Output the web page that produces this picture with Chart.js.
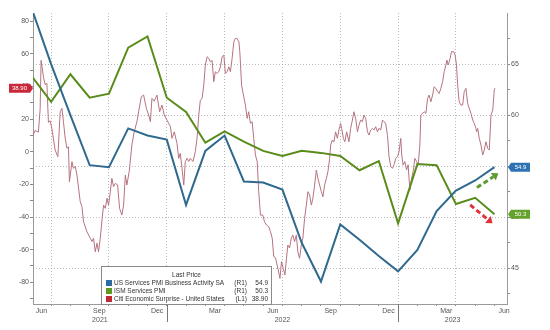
<!DOCTYPE html>
<html>
<head>
<meta charset="utf-8">
<script src="https://cdn.jsdelivr.net/npm/chart.js@4"></script>
<style>
  html, body { margin: 0; padding: 0; background: #fff; }
  #wrap { width: 550px; height: 330px; position: relative; }
</style>
</head>
<body>
<div id="wrap"><canvas id="chart"></canvas></div>
<script>
// x positions are months counted from 1 Jan 2021 (5 = 1 Jun 2021)
const pmiMonths = ['2021-05', '2021-06', '2021-07', '2021-08', '2021-09', '2021-10', '2021-11', '2021-12',
    '2022-01', '2022-02', '2022-03', '2022-04', '2022-05', '2022-06', '2022-07', '2022-08', '2022-09',
    '2022-10', '2022-11', '2022-12', '2023-01', '2023-02', '2023-03', '2023-04', '2023-05']
const usServicesPmi = [70.4, 65.0, 60.0, 55.1, 54.9, 58.7, 58.0, 57.6, 51.2, 56.5, 58.0, 53.5, 53.4,
    52.7, 47.5, 43.7, 49.3, 47.8, 46.2, 44.7, 46.8, 50.6, 52.6, 53.6, 54.9]
const ismServicesPmi = [63.8, 61.3, 64.0, 61.7, 62.1, 66.6, 67.7, 61.7, 60.3, 57.3, 58.4, 57.4, 56.5,
    56.0, 56.5, 56.3, 56.0, 54.6, 55.5, 49.4, 55.2, 55.1, 51.3, 51.9, 50.3]

const citiMonths = [
    5.06, 5.17, 5.34, 5.43, 5.48, 5.60, 5.69, 5.78, 5.86, 5.95, 6.04, 6.21, 6.35, 6.47, 6.56, 6.64,
    6.73, 6.82, 6.90, 6.95, 7.08, 7.16, 7.25, 7.34, 7.51, 7.60, 7.68, 7.86, 8.03, 8.12, 8.20, 8.29,
    8.38, 8.46, 8.55, 8.64, 8.72, 8.81, 8.90, 8.98, 9.07, 9.15, 9.24, 9.33, 9.45, 9.55, 9.67, 9.76,
    9.85, 9.93, 10.05, 10.19, 10.31, 10.45, 10.54, 10.68, 10.80, 10.94, 11.06, 11.15, 11.23, 11.35,
    11.49, 11.63, 11.75, 11.87, 12.01, 12.19, 12.27, 12.39, 12.53, 12.62, 12.70, 12.79, 12.88, 12.96,
    13.05, 13.14, 13.22, 13.36, 13.48, 13.57, 13.66, 13.74, 13.83, 13.92, 14.00, 14.09, 14.18, 14.26,
    14.35, 14.44, 14.52, 14.61, 14.70, 14.78, 14.87, 14.96, 15.04, 15.13, 15.22, 15.30, 15.39, 15.48,
    15.56, 15.65, 15.74, 15.79, 15.88, 15.96, 16.08, 16.17, 16.25, 16.34, 16.43, 16.51, 16.60, 16.69,
    16.77, 16.86, 16.98, 17.07, 17.17, 17.29, 17.38, 17.47, 17.55, 17.64, 17.76, 17.87, 17.95, 18.04,
    18.13, 18.21, 18.28, 18.37, 18.46, 18.54, 18.63, 18.72, 18.80, 18.89, 18.98, 19.06, 19.15, 19.24,
    19.32, 19.41, 19.50, 19.58, 19.67, 19.76, 19.84, 19.93, 20.02, 20.10, 20.19, 20.28, 20.36, 20.45,
    20.50, 20.59, 20.67, 20.76, 20.85, 20.93, 21.02, 21.07, 21.16, 21.24, 21.33, 21.45, 21.54, 21.63,
    21.71, 21.80, 21.89, 21.97, 22.06, 22.15, 22.23, 22.32, 22.41, 22.49, 22.58, 22.67, 22.75, 22.84,
    22.93, 23.01, 23.10, 23.19, 23.27, 23.36, 23.45, 23.53, 23.62, 23.71, 23.79, 23.88, 23.97, 24.05,
    24.14, 24.19, 24.26, 24.35, 24.44, 24.52, 24.61, 24.70, 24.78, 24.87, 24.96, 25.04, 25.13, 25.18,
    25.27, 25.35, 25.44, 25.53, 25.61, 25.70, 25.79, 25.87, 25.96, 26.05, 26.13, 26.22, 26.31, 26.39,
    26.48, 26.53, 26.60, 26.65, 26.70, 26.77, 26.88, 26.96, 27.03, 27.09, 27.17, 27.26, 27.35, 27.43,
    27.52, 27.61, 27.69, 27.78, 27.87, 27.95, 28.04, 28.07, 28.13, 28.21, 28.30, 28.39, 28.47, 28.56,
    28.65, 28.73, 28.82, 28.91, 28.99, 29.03]
const citiSurprise = [
    10, 13, 12, 26, 56, 46, 41, 42, 18, 19, 14, 1, -3, 24.5, 26.6, 18.4,
    8.2, 2.1, 3, -18.4, -6.1, -10.2, -9, -14.3, -30.6, -33.7, -42.9, -49, -53, -55, -53, -61.3,
    -56, -61.3, -53, -41.8, -32.7, -34.7, -28.5, -32.7, -24.5, -16.3, -21.4, -19.4, -20.4, -34.7, -38.8, -32.7,
    -14.3, -20.4, -12.2, 4.1, 12.2, 18.4, 24.5, 33.7, 34.7, 26.6, 22.5, 18.4, 32.7, 31,
    34.7, 24.5, 28.6, 22.5, 19.4, 15.3, 8.2, 12.2, 5.1, -4.1, -1, -10.2, -20.4, -6.1,
    -4, -6, -4.1, -6, 0, 8.2, 22.5, 31.6, 32.6, 40.8, 53.1, 58.2, 57.2, 55.1,
    56, 42.9, 49, 48, 49, 52, 58.2, 59.2, 48, 49, 52, 49, 57.2, 67.4,
    69.4, 69.4, 67.4, 61.3, 40.8, 35.7, 28.6, 20.4, 24.5, 17.4, 18.4, 8.2, -2, -6.1,
    -24.5, -38.8, -38.8, -42.9, -44.9, -45.9, -49, -53, -64.3, -65, -71.4, -77.6, -67.4, -71.4,
    -75.5, -65.3, -57.2, -59, -53, -51, -55.1, -51, -61.3, -65.3, -57.2, -53, -40.8, -32.7,
    -24.5, -26.5, -32.7, -28.5, -20.4, -11.2, -16.3, -20.4, -24.5, -27.6, -20.4, -16.3, -12.2, -4.1,
    4.1, 7.2, 6, 12.2, 8.2, 13.3, 17.4, 14.3, 8.2, 6.1, 12.2, 6.1, 14.3, 19.4,
    24.5, 20.4, 12.2, 16.3, 19.4, 18.4, 22.5, 20.4, 12.2, 10.2, 13.3, 14.3, 13.3, 15.3,
    12.2, 14.3, 13.3, 19.4, 18.4, 17, 10, -3, -9, -10.2, -8, -4.1, -3, 0,
    8.2, -2, -8.2, -6, -11.2, -8, -23.5, -16.3, -12.2, -4.1, -6, -8.2, 4.1, 22.5,
    23.5, 24.5, 23.5, 32.7, 34.7, 30.6, 34.7, 39.8, 38.8, 36.8, 35.7, 38.8, 42.9, 49,
    53.1, 56.2, 53.1, 55.1, 57.2, 61.3, 61.3, 59.2, 53.1, 40.8, 30.6, 28.6, 28.6, 36.8,
    38.8, 29.6, 26.6, 23.5, 19.4, 17.4, 14.3, 12.2, 14.3, 8.2, 4.1, -2, 1, 6.1,
    2, 1, 22.5, 25.5, 37.8, 38.9]

const monthLabels = ['Jun', 'Sep', 'Dec', 'Mar', 'Jun', 'Sep', 'Dec', 'Mar', 'Jun']
const monthLabelPos = [5.5, 8.5, 11.5, 14.5, 17.5, 20.5, 23.5, 26.5, 29.5]
const yearLabels = ['2021', '2022', '2023']
const leftTicks = [-90, -80, -70, -60, -50, -40, -30, -20, -10, 0, 10, 20, 30, 40, 50, 60, 70, 80]
const rightTicks = [42.5, 45, 47.5, 50, 52.5, 55, 57.5, 60, 62.5, 65, 67.5]

const xMin = 5.06
const xMax = 29.65

const toMonth = s => (+s.slice(0, 4) - 2021) * 12 + +s.slice(5, 7)
const pmiX = pmiMonths.map(toMonth)

// month ticks, quarter gridlines, month and year labels
const xTicks = []
for (let m = 6; m <= 29; m++) xTicks.push({ value: m, kind: m % 3 === 0 ? 'q' : 'm' })
monthLabelPos.forEach((v, i) => xTicks.push({ value: v, kind: 'label', text: monthLabels[i] }))
yearLabels.forEach((t, i) => {
    const y0 = Math.max(xMin, i * 12), y1 = Math.min(xMax, i * 12 + 12)
    xTicks.push({ value: (y0 + y1) / 2, kind: 'year', text: t })
})
xTicks.sort((a, b) => a.value - b.value)

const tickFont = { family: 'Arial, "Liberation Sans", sans-serif', size: 7 }
const gridDot = '#b8b8b8'
const axisGrey = '#9a9a9a'

const overlay = {
    id: 'overlay',
    afterDraw(chart) {
        const { ctx, chartArea: a, scales } = chart
        const x = scales.x, yl = scales.y, yr = scales.y1
        ctx.save()

        // year separators below the axis
        ctx.strokeStyle = '#777'
        ctx.lineWidth = 1
        ;[12, 24].forEach(m => {
            const px = Math.round(x.getPixelForValue(m)) + 0.5
            ctx.beginPath(); ctx.moveTo(px, a.bottom); ctx.lineTo(px, a.bottom + 18); ctx.stroke()
        })

        // arrows
        const arrow = (from, to, color) => {
            const x1 = x.getPixelForValue(from[0]), y1 = yr.getPixelForValue(from[1])
            const x2 = x.getPixelForValue(to[0]), y2 = yr.getPixelForValue(to[1])
            const ang = Math.atan2(y2 - y1, x2 - x1)
            const hx = x2 - Math.cos(ang) * 6, hy = y2 - Math.sin(ang) * 6
            ctx.strokeStyle = color; ctx.fillStyle = color
            ctx.lineWidth = 3
            ctx.setLineDash([5, 3])
            ctx.beginPath(); ctx.moveTo(x1, y1); ctx.lineTo(hx, hy); ctx.stroke()
            ctx.setLineDash([])
            ctx.beginPath()
            ctx.moveTo(x2, y2)
            ctx.lineTo(hx + Math.cos(ang + Math.PI / 2) * 4.5, hy + Math.sin(ang + Math.PI / 2) * 4.5)
            ctx.lineTo(hx - Math.cos(ang + Math.PI / 2) * 4.5, hy - Math.sin(ang + Math.PI / 2) * 4.5)
            ctx.closePath(); ctx.fill()
        }
        arrow([28.09, 52.9], [29.2, 54.3], '#5f9a2e')
        arrow([27.74, 51.2], [28.9, 49.4], '#e3313c')

        // last value tags
        const tag = (px, py, w, dir, color, text) => {
            const h = 9, p = 3
            ctx.beginPath()
            ctx.moveTo(px, py)
            ctx.lineTo(px + dir * p, py - h / 2)
            ctx.lineTo(px + dir * (p + w), py - h / 2)
            ctx.lineTo(px + dir * (p + w), py + h / 2)
            ctx.lineTo(px + dir * p, py + h / 2)
            ctx.closePath()
            ctx.fillStyle = color; ctx.fill()
            ctx.fillStyle = '#fff'
            ctx.font = '6px Arial, "Liberation Sans", sans-serif'
            ctx.textAlign = 'center'; ctx.textBaseline = 'middle'
            ctx.fillText(text, px + dir * (p + w / 2), py + 0.5)
        }
        const ds = chart.data.datasets
        const last = d => d.data[d.data.length - 1].y
        tag(a.right + 1, yr.getPixelForValue(last(ds[0])), 19, 1, '#2f72b3', last(ds[0]).toFixed(1))
        tag(a.right + 1, yr.getPixelForValue(last(ds[1])), 19, 1, '#64a22c', last(ds[1]).toFixed(1))
        tag(a.left, yl.getPixelForValue(last(ds[2])), 21, -1, '#c9283a', last(ds[2]).toFixed(2))

        // legend box
        const bx = a.left + 68, by = a.bottom - 38, bw = 171, bh = 38
        ctx.fillStyle = '#fff'
        ctx.fillRect(bx, by, bw, bh)
        ctx.strokeStyle = '#8a8a8a'; ctx.lineWidth = 1
        ctx.strokeRect(bx + 0.5, by + 0.5, bw - 1, bh)
        ctx.fillStyle = '#333'
        ctx.font = '6.5px Arial, "Liberation Sans", sans-serif'
        ctx.textBaseline = 'middle'
        ctx.textAlign = 'center'
        ctx.fillText('Last Price', bx + bw / 2, by + 9)
        const rows = [
            [ds[0].label, '(R1)', last(ds[0]).toFixed(1), '#2d6aa8'],
            [ds[1].label, '(R1)', last(ds[1]).toFixed(1), '#5c9a22'],
            [ds[2].label, '(L1)', last(ds[2]).toFixed(2), '#c42834']
        ]
        rows.forEach((r, i) => {
            const ry = by + 17 + i * 8
            ctx.fillStyle = r[3]
            ctx.fillRect(bx + 5, ry - 3, 6, 6)
            ctx.fillStyle = '#333'
            ctx.textAlign = 'left'
            ctx.fillText(r[0], bx + 13, ry)
            ctx.textAlign = 'right'
            ctx.fillText(r[1], bx + 146, ry)
            ctx.fillText(r[2], bx + 167, ry)
        })
        ctx.restore()
    }
}

new Chart(document.getElementById('chart'), {
    type: 'line',
    data: {
        datasets: [
            {
                label: 'US Services PMI Business Activity SA',
                data: pmiX.map((m, i) => ({ x: m, y: usServicesPmi[i] })),
                yAxisID: 'y1',
                borderColor: '#30698f',
                borderWidth: 2,
                pointRadius: 0,
                tension: 0
            },
            {
                label: 'ISM Services PMI',
                data: pmiX.map((m, i) => ({ x: m, y: ismServicesPmi[i] })),
                yAxisID: 'y1',
                borderColor: '#5a8c1c',
                borderWidth: 2,
                pointRadius: 0,
                tension: 0
            },
            {
                label: 'Citi Economic Surprise - United States',
                data: citiMonths.map((m, i) => ({ x: m, y: citiSurprise[i] })),
                yAxisID: 'y',
                borderColor: '#b5737f',
                borderWidth: 1,
                pointRadius: 0,
                tension: 0
            }
        ]
    },
    options: {
        responsive: true,
        maintainAspectRatio: false,
        animation: false,
        layout: { padding: { top: 13, left: 0, right: 0, bottom: 0 } },
        scales: {
            x: {
                type: 'linear',
                bounds: 'data',
                min: xMin,
                max: xMax,
                afterBuildTicks: s => { s.ticks = xTicks.map(t => ({ ...t })) },
                afterFit: s => { s.height = 26 },
                ticks: {
                    autoSkip: false,
                    maxRotation: 0,
                    padding: 1,
                    font: tickFont,
                    color: '#555',
                    callback: (v, i, ticks) => {
                        const t = ticks[i]
                        if (t.kind === 'label') return t.text
                        if (t.kind === 'year') return ['', t.text]
                        return ''
                    }
                },
                grid: {
                    color: c => (c.tick && c.tick.kind === 'q') ? gridDot : 'transparent',
                    tickColor: c => (c.tick && (c.tick.kind === 'q' || c.tick.kind === 'm')) ? '#888' : 'transparent',
                    tickLength: 2
                },
                border: { color: axisGrey, dash: [1, 2] }
            },
            y: {
                position: 'left',
                bounds: 'data',
                min: -93.3,
                max: 85,
                afterBuildTicks: s => { s.ticks = leftTicks.map(v => ({ value: v })) },
                afterFit: s => { s.width = 33 },
                ticks: {
                    autoSkip: false,
                    padding: 1,
                    font: tickFont,
                    color: '#555',
                    callback: v => v % 20 === 0 ? String(v) : ''
                },
                grid: { drawOnChartArea: false, tickLength: 3, tickColor: '#888' },
                border: { color: axisGrey }
            },
            y1: {
                position: 'right',
                bounds: 'data',
                min: 41.5,
                max: 70,
                afterBuildTicks: s => { s.ticks = rightTicks.map(v => ({ value: v })) },
                afterFit: s => { s.width = 43 },
                ticks: {
                    autoSkip: false,
                    padding: 1,
                    font: tickFont,
                    color: '#555',
                    callback: v => v % 5 === 0 ? String(v) : ''
                },
                grid: {
                    color: c => (c.tick && c.tick.value % 5 === 0) ? gridDot : 'transparent',
                    tickLength: 3,
                    tickColor: '#888'
                },
                border: { color: axisGrey, dash: [1, 2] }
            }
        },
        plugins: {
            legend: { display: false },
            tooltip: { enabled: false }
        }
    },
    plugins: [overlay]
})
</script>
</body>
</html>
